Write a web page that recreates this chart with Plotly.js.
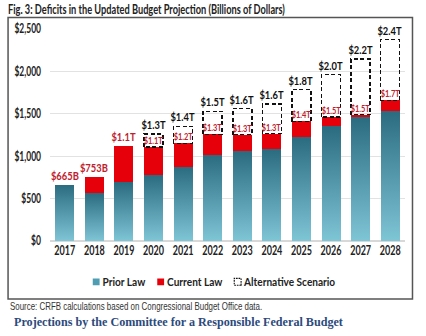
<!DOCTYPE html>
<html>
<head>
<meta charset="utf-8">
<script src="https://cdn.plot.ly/plotly-3.0.1.min.js"></script>
<style>
html,body{margin:0;padding:0;background:#fff;}
#chart{width:426px;height:336px;}
</style>
</head>
<body>
<div id="chart"></div>
<script>
// ---- data (billions of dollars) ----
const years = ['2017','2018','2019','2020','2021','2022','2023','2024','2025','2026','2027','2028'];
const priorLaw = [665, 565, 690, 780, 878, 1020, 1056, 1084, 1226, 1351, 1462, 1537];
const currentLaw = [null, 753, 1115, 1107, 1150, 1257, 1255, 1265, 1410, 1462, 1489, 1658];
const alternative = [null, null, null, 1261, 1351, 1529, 1560, 1615, 1785, 1962, 2148, 2376];
const currentLabels = ['$665B', '$753B', '$1.1T', '$1.1T', '$1.2T', '$1.3T', '$1.3T', '$1.3T', '$1.4T', '$1.5T', '$1.5T', '$1.7T'];
const altLabels = [null, null, null, '$1.3T', '$1.4T', '$1.5T', '$1.6T', '$1.6T', '$1.8T', '$2.0T', '$2.2T', '$2.4T'];
const yTickVals = [0, 500, 1000, 1500, 2000, 2500];
const yTickText = ['$0', '$500', '$1,000', '$1,500', '$2,000', '$2,500'];

const SANS = 'Lato, Roboto, sans-serif';

const pos = years.map((y, i) => i);
const currentInc = currentLaw.map((c, i) => c == null ? null : c - priorLaw[i]);
const altInc = alternative.map((a, i) => a == null ? null : a - currentLaw[i]);

const traces = [
  {type:'bar', name:'Prior Law', x:pos, y:priorLaw,
   marker:{color:'#4f9db3', line:{width:0}}, hoverinfo:'skip'},
  {type:'bar', name:'Current Law', x:pos, y:currentInc,
   marker:{color:'#e6000a', line:{width:0}}, hoverinfo:'skip'},
  {type:'bar', name:'Alternative Scenario', x:pos, y:altInc,
   marker:{color:'rgba(255,255,255,0)', line:{color:'#111', width:1.5}}, hoverinfo:'skip'}
];

const annotations = [];
pos.forEach(i => {
  if (alternative[i] == null) {
    const top = currentLaw[i] == null ? priorLaw[i] : currentLaw[i];
    annotations.push({x:i, y:top, xref:'x', yref:'y', text:'<b>' + currentLabels[i] + '</b>', showarrow:false,
      yanchor:'bottom', yshift:0, font:{family:SANS, size:12, color:'#c0202c'}});
  } else {
    annotations.push({x:i, y:currentLaw[i], xref:'x', yref:'y', text:'<b>' + currentLabels[i] + '</b>', showarrow:false,
      yanchor:'bottom', yshift:-1, font:{family:SANS, size:9.5, color:'#c0202c'}});
    annotations.push({x:i, y:alternative[i], xref:'x', yref:'y', text:'<b>' + altLabels[i] + '</b>', showarrow:false,
      yanchor:'bottom', yshift:0, font:{family:SANS, size:12, color:'#111'}});
  }
});
annotations.push({xref:'paper', yref:'paper', x:(8-50)/355.5, y:(241-306)/212, xanchor:'left', yanchor:'middle',
  text:'Source: CRFB calculations based on Congressional Budget Office data.', showarrow:false,
  font:{family:'"Liberation Sans", Arial, sans-serif', size:11, color:'#333'}});
annotations.push({xref:'paper', yref:'paper', x:(12-50)/355.5, y:(241-322)/212, xanchor:'left', yanchor:'middle',
  text:'<b>Projections by the Committee for a Responsible Federal Budget</b>', showarrow:false,
  font:{family:'"Liberation Serif", "DejaVu Serif", serif', size:12.5, color:'#2c4a7c'}});

const layout = {
  width:426, height:336,
  margin:{l:50, r:20.5, t:29, b:95},
  paper_bgcolor:'#fff', plot_bgcolor:'#fff',
  barmode:'stack', bargap:0.36,
  showlegend:true,
  legend:{orientation:'h', x:0.465, xanchor:'center', y:(241-282)/212, yanchor:'middle',
    font:{family:SANS, size:12, color:'#222', weight:'bold'}, itemwidth:30, traceorder:'normal'},
  title:{text:'<b>Fig. 3: Deficits in the Updated Budget Projection (Billions of Dollars)</b>',
    xref:'container', yref:'container', x:8/426, xanchor:'left', y:1-9/336, yanchor:'middle',
    font:{family:SANS, size:13, color:'#222'}},
  xaxis:{range:[-0.5, years.length - 0.5], tickvals:pos, ticktext:years, tickangle:0,
    tickfont:{family:SANS, size:12.5, color:'#222', weight:'bold'}, showline:false,
    ticks:'', showgrid:false, zeroline:false},
  yaxis:{range:[0,2500], tickvals:yTickVals, ticktext:yTickText, showgrid:true, gridcolor:'#e2e2e2',
    gridwidth:1, zeroline:true, zerolinecolor:'#d8d8d8', zerolinewidth:1.5,
    tickfont:{family:SANS, size:12.5, color:'#222', weight:'bold'}, ticks:'', showline:false,
    ticklabelstandoff:8},
  annotations:annotations,
  shapes:[{type:'rect', xref:'paper', yref:'paper', x0:(8-50)/355.5, x1:(413-50)/355.5,
    y0:(241-299)/212, y1:(241-17.5)/212, line:{color:'#555', width:1.5}, fillcolor:'rgba(0,0,0,0)', layer:'below'}]
};

function squeeze(t, f) {
  const w = t.getComputedTextLength();
  if (w > 0) {
    t.setAttribute('textLength', (w * f).toFixed(1));
    t.setAttribute('lengthAdjust', 'spacingAndGlyphs');
  }
  return w * f;
}

function condense(gd) {
  // narrow the glyphs of each text (legend handled separately), to mimic a condensed typeface
  gd.querySelectorAll('svg text').forEach(t => {
    if (t.closest('.legend')) return;
    const txt = t.textContent || '';
    const isSerif = txt.indexOf('Projections by') === 0;
    const isSource = txt.indexOf('Source:') === 0;
    if (isSerif || isSource) {
      // left-aligned footer lines: keep their left edge
      const left = t.getBBox().x;
      squeeze(t, isSerif ? 0.97 : 0.72);
      t.setAttribute('text-anchor', 'start');
      t.setAttribute('x', left.toFixed(1));
      t.querySelectorAll('tspan').forEach(s => { if (s.hasAttribute('x')) s.setAttribute('x', left.toFixed(1)); });
      return;
    }
    let f = 0.78;
    if (txt.indexOf('Fig. 3') === 0) f = 0.71;
    else if (t.closest('.ytick')) f = 0.68;
    else if (t.closest('.xtick')) f = 0.72;
    squeeze(t, f);
  });
}

function readTranslate(el) {
  const m = /translate\(\s*([-\d.]+)[ ,]+([-\d.]+)/.exec(el.getAttribute('transform') || '');
  return m ? [parseFloat(m[1]), parseFloat(m[2])] : [0, 0];
}

function tidyLegend(gd) {
  const items = Array.from(gd.querySelectorAll('.legend .traces'));
  if (!items.length) return;
  const half = 3.4, gapIcon = 3, gapItem = 12;
  const widths = [];
  items.forEach(g => {
    g.querySelectorAll('.legendpoints path').forEach(p => {
      const tr = p.getAttribute('transform') || '';
      p.setAttribute('transform', tr + ' scale(0.57)');
    });
    const t = g.querySelector('text.legendtext');
    const tw = squeeze(t, 0.84);
    t.setAttribute('x', (20 + half + gapIcon).toFixed(1));
    widths.push(2 * half + gapIcon + tw);
  });
  const total = widths.reduce((a, b) => a + b, 0) + gapItem * (widths.length - 1);
  const root = gd.querySelector('.legend');
  const [Lx, Ly] = readTranslate(root);
  const ty0 = readTranslate(items[0])[1];
  const centre = 214;
  let left = centre - total / 2;
  items.forEach((g, i) => {
    const tx = left - Lx - (20 - half);
    g.setAttribute('transform', 'translate(' + tx.toFixed(1) + ',' + ty0 + ')');
    left += widths[i] + gapItem;
  });
  // put the single row at the reference height
  const r = items[0].querySelector('text.legendtext').getBoundingClientRect();
  const svgTop = gd.querySelector('svg.main-svg').getBoundingClientRect().top;
  const cy = (r.top + r.bottom) / 2 - svgTop;
  root.setAttribute('transform', 'translate(' + Lx + ',' + (Ly + 282 - cy).toFixed(1) + ')');
  const bg = root.querySelector('rect.bg');
  if (bg) bg.style.display = 'none';
}

Plotly.newPlot('chart', traces, layout, {staticPlot:true, displayModeBar:false}).then(gd => {
  const svg = gd.querySelector('svg.main-svg');
  const ns = 'http://www.w3.org/2000/svg';
  const defs = svg.querySelector('defs');
  const grad = document.createElementNS(ns, 'linearGradient');
  grad.setAttribute('id', 'priorGrad');
  grad.setAttribute('x1', '0'); grad.setAttribute('y1', '0');
  grad.setAttribute('x2', '0'); grad.setAttribute('y2', '1');
  [['0', '#2b6b80'], ['1', '#7ec5d6']].forEach(([o, c]) => {
    const s = document.createElementNS(ns, 'stop');
    s.setAttribute('offset', o); s.setAttribute('stop-color', c);
    grad.appendChild(s);
  });
  defs.appendChild(grad);
  const barTraces = gd.querySelectorAll('.barlayer .trace.bars');
  if (barTraces[0]) barTraces[0].querySelectorAll('path').forEach(p => { p.style.fill = 'url(#priorGrad)'; });
  if (barTraces[2]) barTraces[2].querySelectorAll('path').forEach(p => { p.style.strokeDasharray = '4,2.5'; });
  const legTraces = gd.querySelectorAll('.legend .traces');
  if (legTraces[2]) legTraces[2].querySelectorAll('.legendpoints path').forEach(p => { p.style.strokeDasharray = '3,1.5'; p.style.strokeWidth = '2'; });
  condense(gd);
  tidyLegend(gd);
});
</script>
</body>
</html>
